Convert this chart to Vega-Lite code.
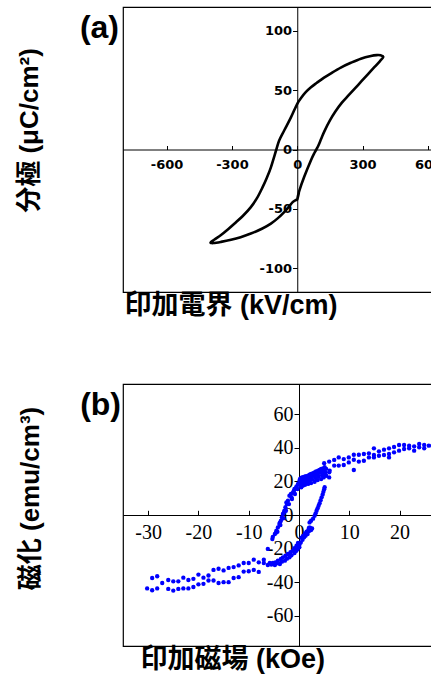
{
  "$schema": "https://vega.github.io/schema/vega-lite/v6.json",
  "background": "white",
  "padding": {"left": 15, "top": 6, "right": 0, "bottom": 0},
  "spacing": 64,
  "config": {
    "view": {"stroke": "#000", "strokeWidth": 1.2},
    "axis": {"grid": false, "domainColor": "#000", "domainWidth": 1, "tickColor": "#000", "tickWidth": 1, "labelColor": "#000", "titleColor": "#000", "labelFlush": false, "labelOverlap": false, "labelBound": false, "labelExpr": "toString(datum.value)"}
  },
  "vconcat": [
    {
      "width": 348.5,
      "height": 285,
      "layer": [
        {
          "data": {"values": [
            {"i":0,"E":0,"P":-42},{"i":1,"E":9,"P":-35},{"i":2,"E":32,"P":-23},{"i":3,"E":63,"P":-9},{"i":4,"E":80,"P":-2.5},{"i":5,"E":95,"P":2.5},{"i":6,"E":110,"P":9},{"i":7,"E":125,"P":15.5},{"i":8,"E":150,"P":24.5},{"i":9,"E":175,"P":32},{"i":10,"E":205,"P":39.5},{"i":11,"E":235,"P":45.5},{"i":12,"E":265,"P":51.5},{"i":13,"E":295,"P":57.5},{"i":14,"E":325,"P":63.5},{"i":15,"E":355,"P":69.5},{"i":16,"E":380,"P":74.5},{"i":17,"E":395,"P":78},
            {"i":18,"E":383,"P":79.3},{"i":19,"E":365,"P":79.5},{"i":20,"E":338,"P":78.8},{"i":21,"E":292,"P":76.5},{"i":22,"E":246,"P":73},{"i":23,"E":200,"P":69},{"i":24,"E":155,"P":64.2},{"i":25,"E":123,"P":60.5},{"i":26,"E":90,"P":56.2},{"i":27,"E":63,"P":52.5},{"i":28,"E":40,"P":48.5},{"i":29,"E":20,"P":44},{"i":30,"E":0,"P":38.5},{"i":31,"E":-29,"P":27},{"i":32,"E":-60,"P":16},{"i":33,"E":-83,"P":7.6},{"i":34,"E":-96,"P":0},{"i":35,"E":-121,"P":-15},{"i":36,"E":-140,"P":-24},{"i":37,"E":-159,"P":-31.7},{"i":38,"E":-185,"P":-41},{"i":39,"E":-213,"P":-48.5},{"i":40,"E":-250,"P":-56},{"i":41,"E":-289,"P":-62.5},{"i":42,"E":-320,"P":-67.5},{"i":43,"E":-350,"P":-72},{"i":44,"E":-380,"P":-75.8},{"i":45,"E":-398,"P":-78.3},
            {"i":46,"E":-384,"P":-78.8},{"i":47,"E":-350,"P":-77.8},{"i":48,"E":-304,"P":-76},{"i":49,"E":-260,"P":-73.8},{"i":50,"E":-213,"P":-70.8},{"i":51,"E":-160,"P":-66.5},{"i":52,"E":-121,"P":-62.4},{"i":53,"E":-90,"P":-58},{"i":54,"E":-60,"P":-52.7},{"i":55,"E":-40,"P":-48.5},{"i":56,"E":-21,"P":-44.3},{"i":57,"E":-6,"P":-42.5},{"i":58,"E":0,"P":-42},{"i":59,"E":7,"P":-37},{"i":60,"E":3,"P":-39.5}
          ]},
          "mark": {"type": "line", "interpolate": "cardinal", "stroke": "#000", "strokeWidth": 2.6, "strokeJoin": "round", "strokeCap": "round"},
          "encoding": {
            "x": {"field": "E", "type": "quantitative", "scale": {"domain": [-800, 800], "nice": false, "zero": false},
              "axis": {"title": "印加電界 (kV/cm)", "values": [-600, -300, 0, 300, 600], "offset": -142.5, "tickSize": -4, "labelPadding": 13.2,
                "labelFont": "DejaVu Sans", "labelFontWeight": "bold", "labelFontSize": 13,
                "titleFont": "'Liberation Sans', 'Noto Sans CJK JP'", "titleFontWeight": "bold", "titleFontSize": 27,
                "titleX": 107.5, "titleY": 163.5, "titleAlign": "center", "titleBaseline": "alphabetic"}},
            "y": {"field": "P", "type": "quantitative", "scale": {"domain": [-120, 120], "nice": false, "zero": false},
              "axis": {"title": "分極 (μC/cm²)", "values": [-100, -50, 0, 50, 100], "offset": -174.25, "tickSize": 4.7, "labelPadding": 1,
                "labelFont": "DejaVu Sans", "labelFontWeight": "bold", "labelFontSize": 13,
                "titleFont": "'Liberation Sans', 'Noto Sans CJK JP'", "titleFontWeight": "bold", "titleFontSize": 26,
                "titleAngle": 270, "titleX": -260, "titleY": 123, "titleAlign": "center", "titleBaseline": "alphabetic"}},
            "order": {"field": "i", "type": "quantitative"}
          }
        },
        {
          "data": {"values": [{"label": "(a)"}]},
          "mark": {"type": "text", "align": "right", "baseline": "alphabetic", "dx": -4, "dy": 31, "font": "Liberation Sans", "fontWeight": "bold", "fontSize": 32, "color": "#000"},
          "encoding": {"x": {"datum": -800}, "y": {"datum": 120}, "text": {"field": "label"}}
        }
      ]
    },
    {
      "width": 352,
      "height": 262,
      "layer": [
        {
          "data": {"values": [
            {"H":-30.2,"M":-43.7},{"H":-29.2,"M":-44.8},{"H":-29.2,"M":-37.5},{"H":-28.2,"M":-36.5},{"H":-28.2,"M":-43.7},{"H":-27.2,"M":-40.5},{"H":-26,"M":-38.7},{"H":-26,"M":-44},{"H":-25,"M":-39.5},{"H":-25,"M":-45},{"H":-24,"M":-39.5},{"H":-24,"M":-44},{"H":-23,"M":-37.3},{"H":-23,"M":-43.7},{"H":-22,"M":-38.7},{"H":-22,"M":-43.7},{"H":-21,"M":-38},{"H":-21,"M":-42.9},{"H":-20,"M":-35.5},{"H":-20,"M":-41.3},{"H":-19,"M":-37.3},{"H":-19,"M":-41},{"H":-18,"M":-36},{"H":-18,"M":-39},{"H":-17,"M":-32.7},{"H":-17,"M":-39},{"H":-16,"M":-32},{"H":-16,"M":-40.5},{"H":-15,"M":-33},{"H":-15,"M":-40},{"H":-14,"M":-31.5},{"H":-14,"M":-40},{"H":-13,"M":-31},{"H":-13,"M":-37.5},{"H":-12,"M":-30},{"H":-12,"M":-37},{"H":-11,"M":-28.6},{"H":-11,"M":-33.7},{"H":-10,"M":-28.6},{"H":-10,"M":-33.5},{"H":-9,"M":-26.6},{"H":-9,"M":-32.7},{"H":-8,"M":-28.2},{"H":-8,"M":-33.9},{"H":-7,"M":-26.6},{"H":-7,"M":-28.6},{"H":-6.2,"M":-29.8},{"H":-6.2,"M":-20.2},
            {"H":-5.8,"M":-28.5},{"H":-5.5,"M":-29.5},{"H":-5.2,"M":-28.6},{"H":-4.8,"M":-29.8},{"H":-4.7,"M":-28.2},{"H":-4.4,"M":-28.8},{"H":-4.2,"M":-27.2},{"H":-3.8,"M":-29.2},{"H":-3.6,"M":-26.2},{"H":-3.4,"M":-27.8},{"H":-3.2,"M":-25.2},{"H":-2.8,"M":-27.2},{"H":-2.7,"M":-24.2},{"H":-2.4,"M":-26},{"H":-2.2,"M":-23.2},{"H":-1.9,"M":-25.2},{"H":-1.7,"M":-22.2},{"H":-1.5,"M":-24},{"H":-1.2,"M":-21.2},{"H":-0.9,"M":-22.6},{"H":-0.9,"M":-19.8},{"H":-0.6,"M":-21.5},{"H":-0.5,"M":-18.3},{"H":-0.3,"M":-20.5},{"H":-0.2,"M":-16.7},{"H":0,"M":-19},
            {"H":-5.3,"M":-14.3},{"H":-5.2,"M":-13},{"H":-4.8,"M":-11.3},{"H":-4.6,"M":-10.5},{"H":-4.5,"M":-9.4},{"H":-4.3,"M":-10},{"H":-4.2,"M":-7.4},{"H":-3.9,"M":-5.4},{"H":-3.8,"M":-4.5},{"H":-3.7,"M":-6},{"H":-3.6,"M":-3.4},{"H":-3.4,"M":-1.4},{"H":-3.2,"M":0.6},{"H":-3.1,"M":-2},{"H":-3.0,"M":1.5},{"H":-2.9,"M":2.6},{"H":-2.7,"M":4.6},{"H":-2.6,"M":2.5},{"H":-2.5,"M":7.5},{"H":-2.4,"M":6.6},{"H":-2.2,"M":8.5},{"H":-2.0,"M":6.5},{"H":-1.9,"M":11.5},{"H":-1.6,"M":12.5},{"H":-1.5,"M":10.5},{"H":-1.4,"M":9.5},{"H":-1.2,"M":13.5},{"H":-1.0,"M":14.5},{"H":-0.9,"M":15.5},{"H":-0.8,"M":12.5},{"H":-0.6,"M":16},{"H":-0.5,"M":17},{"H":-0.3,"M":15.5},{"H":-0.2,"M":18.5},{"H":0.1,"M":20.4},
            {"H":0.2,"M":21.5},{"H":0.5,"M":22.2},{"H":0.8,"M":22.5},{"H":1.1,"M":22.8},{"H":1.4,"M":23.1},{"H":1.8,"M":23.4},{"H":2.1,"M":24},{"H":2.4,"M":24.4},{"H":2.8,"M":24.9},{"H":3.1,"M":25.4},{"H":3.4,"M":25.9},{"H":3.8,"M":26.4},{"H":4.1,"M":26.9},{"H":4.4,"M":27.4},{"H":4.8,"M":27.8},{"H":5.1,"M":28.4},{"H":5.4,"M":27.5},
            {"H":0.3,"M":19.5},{"H":0.6,"M":20.5},{"H":0.9,"M":21},{"H":1.2,"M":21.3},{"H":1.6,"M":21.8},{"H":2.0,"M":22.2},{"H":2.3,"M":22.7},{"H":2.7,"M":23.2},{"H":3.0,"M":23.6},{"H":3.4,"M":24.1},{"H":3.7,"M":24.6},{"H":4.1,"M":25.1},{"H":4.5,"M":25.6},{"H":4.9,"M":26},{"H":5.2,"M":25.5},
            {"H":0.45,"M":16.5},{"H":0.8,"M":17.5},{"H":1.2,"M":18},{"H":1.8,"M":18.5},{"H":2.4,"M":19},{"H":3.1,"M":19.8},{"H":3.7,"M":20.8},{"H":4.4,"M":21.4},{"H":4.9,"M":22.4},{"H":5.4,"M":23.4},
            {"H":0.1,"M":18},{"H":0.4,"M":18.5},{"H":1.0,"M":19.5},{"H":1.5,"M":20},{"H":2.1,"M":20.5},{"H":2.6,"M":21.2},{"H":3.3,"M":22},{"H":3.9,"M":22.8},{"H":4.6,"M":23.6},{"H":5.2,"M":24.2},
            {"H":2.1,"M":-4.4},{"H":2.4,"M":-3.4},{"H":2.8,"M":-2.2},{"H":3.1,"M":-0.5},{"H":3.3,"M":1},{"H":3.5,"M":2.5},{"H":3.7,"M":4},{"H":3.9,"M":5.5},{"H":4.1,"M":7},{"H":4.3,"M":8.8},{"H":4.5,"M":10.5},{"H":4.7,"M":12.2},{"H":4.85,"M":13.8},{"H":5.0,"M":15.3},{"H":5.1,"M":16.5},
            {"H":2.4,"M":-8.9},{"H":2.0,"M":-9.5},{"H":1.7,"M":-11.3},{"H":1.3,"M":-12.3},{"H":1.0,"M":-13.3},{"H":0.7,"M":-14.8},{"H":0.35,"M":-16.3},{"H":0.1,"M":-17.5},{"H":0.06,"M":-19.2},{"H":2.2,"M":-7.6},{"H":1.9,"M":-8.6},{"H":1.5,"M":-10},{"H":1.2,"M":-11},{"H":0.8,"M":-12.5},{"H":0.5,"M":-13.5},{"H":2.6,"M":-8},{"H":2.0,"M":-7.5},
            {"H":5.0,"M":30.8},{"H":5.0,"M":25.4},{"H":6.0,"M":31.8},{"H":6.0,"M":25.4},{"H":6.0,"M":22.4},{"H":6.1,"M":26.4},{"H":7.0,"M":32.8},{"H":7.0,"M":29.4},{"H":7.9,"M":34.3},{"H":7.9,"M":29.4},{"H":8.9,"M":33.3},{"H":8.9,"M":29.8},{"H":9.9,"M":34.3},{"H":9.9,"M":31.3},{"H":10.9,"M":35.9},{"H":10.9,"M":32.9},{"H":10.9,"M":26.8},{"H":11.9,"M":35.9},{"H":11.9,"M":31.8},{"H":12.9,"M":36.3},{"H":12.9,"M":32.3},{"H":13.9,"M":36.7},{"H":13.9,"M":34.3},{"H":14.9,"M":39.7},{"H":14.9,"M":35.7},{"H":14.9,"M":34.3},{"H":15.9,"M":37.9},{"H":15.9,"M":35.3},{"H":16.9,"M":38.9},{"H":16.9,"M":35.7},{"H":17.9,"M":39.7},{"H":17.9,"M":36.3},{"H":17.9,"M":34.3},{"H":18.9,"M":40.5},{"H":18.9,"M":37.3},{"H":19.9,"M":41.7},{"H":19.9,"M":38.3},{"H":20.9,"M":41.7},{"H":20.9,"M":39.3},{"H":21.9,"M":41.3},{"H":21.9,"M":39.7},{"H":22.9,"M":40.9},{"H":22.9,"M":38.3},{"H":23.9,"M":42.3},{"H":23.9,"M":40.3},{"H":24.9,"M":41.7},{"H":24.9,"M":39.7},{"H":25.8,"M":41.3},{"H":26.5,"M":41.3},{"H":27.5,"M":40.8},{"H":28.5,"M":41.5}
          ]},
          "mark": {"type": "circle", "size": 19, "color": "#0000ff", "opacity": 1},
          "encoding": {
            "x": {"field": "H", "type": "quantitative", "scale": {"domain": [-35, 35], "nice": false, "zero": false},
              "axis": {"title": "印加磁場 (kOe)", "values": [-30, -20, -10, 0, 10, 20, 30], "offset": -131, "tickSize": -4.7, "labelPadding": 12.1,
                "labelFont": "Liberation Serif", "labelFontSize": 20, "labelFontWeight": "normal",
                "titleFont": "'Liberation Sans', 'Noto Sans CJK JP'", "titleFontWeight": "bold", "titleFontSize": 27,
                "titleX": 109.3, "titleY": 152.7, "titleAlign": "center", "titleBaseline": "alphabetic"}},
            "y": {"field": "M", "type": "quantitative", "scale": {"domain": [-78, 78], "nice": false, "zero": false},
              "axis": {"title": "磁化 (emu/cm³)", "values": [-60, -40, -20, 0, 20, 40, 60], "offset": -176, "tickSize": 5, "labelPadding": 1,
                "labelFont": "Liberation Serif", "labelFontSize": 20, "labelFontWeight": "normal",
                "titleFont": "'Liberation Sans', 'Noto Sans CJK JP'", "titleFontWeight": "bold", "titleFontSize": 26,
                "titleAngle": 270, "titleX": -261, "titleY": 114, "titleAlign": "center", "titleBaseline": "alphabetic"}}
          }
        },
        {
          "data": {"values": [{"label": "(b)"}]},
          "mark": {"type": "text", "align": "right", "baseline": "alphabetic", "dx": -2, "dy": 31, "font": "Liberation Sans", "fontWeight": "bold", "fontSize": 32, "color": "#000"},
          "encoding": {"x": {"datum": -35}, "y": {"datum": 78}, "text": {"field": "label"}}
        }
      ]
    }
  ]
}
